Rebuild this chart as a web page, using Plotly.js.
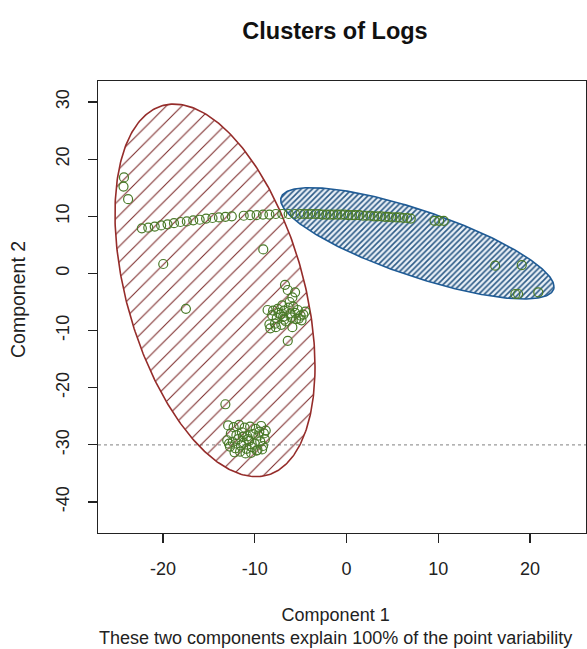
<!DOCTYPE html>
<html>
<head>
<meta charset="utf-8">
<script src="https://cdn.plot.ly/plotly-3.0.1.min.js"></script>
<style>
  html, body { margin: 0; padding: 0; background: #ffffff; }
  #chart { width: 587px; height: 649px; }
</style>
</head>
<body>
<div id="chart"></div>
<script>
// ---- Data ----
// Chain of points along the top (component 1, component 2)
var chainX = [-22.3, -21.6, -20.9, -20.2, -19.5, -18.8, -18.1, -17.4, -16.7, -16.0, -15.3, -14.6, -13.9, -13.2, -12.5,
              -11.2, -10.5, -9.8, -9.1, -8.4, -7.7, -7.0, -6.3, -5.6,
              -5.0, -4.6, -4.2, -3.8, -3.4, -3.0, -2.6, -2.2, -1.8, -1.4, -1.0, -0.6, -0.2, 0.2, 0.6, 1.0, 1.4,
              1.8, 2.2, 2.6, 3.0, 3.4, 3.8, 4.2, 4.6, 5.0, 5.4, 5.8, 6.2, 6.6, 7.0, 9.6, 10.1, 10.6];
var chainY = [7.9, 8.0, 8.2, 8.4, 8.6, 8.8, 9.0, 9.1, 9.3, 9.4, 9.6, 9.7, 9.8, 9.9, 10.0,
              10.1, 10.2, 10.2, 10.3, 10.3, 10.4, 10.4, 10.4, 10.4,
              10.4, 10.4, 10.4, 10.4, 10.4, 10.4, 10.3, 10.3, 10.3, 10.3, 10.3, 10.3, 10.3, 10.2, 10.2, 10.2, 10.2,
              10.1, 10.1, 10.1, 10.0, 10.0, 10.0, 9.9, 9.9, 9.8, 9.8, 9.8, 9.7, 9.7, 9.6, 9.2, 9.2, 9.2];
// Isolated points
var loneX = [-24.25, -24.3, -23.8, -19.97, -9.07, -17.5, -13.2, 16.2, 19.1, 18.4, 18.7, 20.9];
var loneY = [16.8, 15.2, 13.0, 1.65, 4.2, -6.2, -22.9, 1.35, 1.47, -3.6, -3.6, -3.3];
// Middle group
var midX = [-6.7, -6.4, -5.6, -5.9, -6.2, -7.0, -7.5, -8.0, -8.6, -8.3, -7.8, -7.2, -6.8, -6.3, -5.8, -5.3, -4.9, -4.5,
            -5.0, -5.5, -6.0, -6.6, -7.1, -7.6, -8.1, -7.4, -6.9, -6.1, -5.6, -5.2, -6.4, -7.7, -6.8, -5.9, -4.7, -8.4];
var midY = [-2.0, -2.9, -3.3, -4.2, -5.0, -5.6, -6.2, -6.5, -6.4, -9.6, -8.8, -7.2, -6.5, -6.0, -5.8, -6.4, -8.2, -6.7,
            -7.4, -8.0, -7.7, -8.4, -9.0, -7.8, -7.3, -6.9, -7.6, -7.0, -6.9, -7.9, -11.8, -9.4, -8.1, -9.4, -7.2, -8.9];
// Bottom group
var lowX = [-12.9, -12.3, -11.7, -11.1, -10.5, -9.9, -9.3, -8.8, -12.6, -12.0, -11.4, -10.8, -10.2, -9.6, -9.0,
            -13.0, -12.4, -11.8, -11.2, -10.6, -10.0, -9.4, -8.9, -12.7, -12.1, -11.5, -10.9, -10.3, -9.7, -9.1,
            -12.2, -11.0, -9.8, -11.6, -10.4, -9.2, -12.8, -10.7, -11.3, -9.5];
var lowY = [-26.6, -26.9, -26.5, -27.0, -26.8, -27.2, -26.7, -27.5, -28.0, -28.3, -27.8, -28.5, -28.1, -28.4, -28.0,
            -29.2, -29.5, -29.0, -29.6, -29.3, -29.8, -29.4, -29.0, -30.3, -30.6, -30.1, -30.7, -30.4, -30.9, -30.2,
            -31.3, -31.5, -31.0, -31.2, -31.4, -30.8, -29.8, -29.0, -28.6, -27.7];

// Cluster ellipses: centre, half-width in x, half-height in y, phase (deg)
var ellCx = [-14.33, 7.72];
var ellCy = [-2.96, 5.27];
var ellAx = [10.9, 14.89];
var ellBy = [32.6, 9.74];
var ellPhi = [114.2, 141.3];

var xTicks = [-20, -10, 0, 10, 20];
var yTicks = [-40, -30, -20, -10, 0, 10, 20, 30];
var refLineY = -30;

var titleText = 'Clusters of Logs';
var xLabel = 'Component 1';
var subLabel = 'These two components explain 100% of the point variability';
var yLabel = 'Component 2';

// ---- Build ----
function ellipse(i) {
  var xs = [], ys = [];
  var phi = ellPhi[i] * Math.PI / 180;
  for (var k = 0; k <= 360; k++) {
    var t = k * Math.PI / 180;
    xs.push(ellCx[i] + ellAx[i] * Math.cos(t));
    ys.push(ellCy[i] + ellBy[i] * Math.cos(t - phi));
  }
  return {x: xs, y: ys};
}
var e0 = ellipse(0), e1 = ellipse(1);

var allX = chainX.concat(loneX, midX, lowX);
var allY = chainY.concat(loneY, midY, lowY);

var FONT = 'Liberation Sans, Arial, sans-serif';

var traces = [
  {
    x: e0.x, y: e0.y, type: 'scatter', mode: 'lines', fill: 'toself',
    line: {color: '#952c2a', width: 1.6},
    fillcolor: 'rgba(0,0,0,0)',
    fillpattern: {shape: '/', size: 11, solidity: 0.1, fgcolor: '#7e2d2d', bgcolor: 'rgba(255,255,255,0)'},
    hoverinfo: 'skip', showlegend: false
  },
  {
    x: e1.x, y: e1.y, type: 'scatter', mode: 'lines', fill: 'toself',
    line: {color: '#1f5b95', width: 1.6},
    fillcolor: 'rgba(0,0,0,0)',
    fillpattern: {shape: '/', size: 4, solidity: 0.4, fgcolor: '#2c5a86', bgcolor: '#e9f0f7'},
    hoverinfo: 'skip', showlegend: false
  },
  {
    x: allX, y: allY, type: 'scatter', mode: 'markers',
    marker: {symbol: 'circle-open', size: 9, color: '#4a7a28', line: {width: 1.2, color: '#4a7a28'}},
    showlegend: false
  }
];

var axisCommon = {
  showgrid: false, zeroline: false, showline: true, mirror: true,
  linecolor: '#222', linewidth: 1.4,
  ticks: 'outside', ticklen: 9, tickwidth: 1.3, tickcolor: '#222',
  tickfont: {family: FONT, size: 18, color: '#222'}
};

var layout = {
  width: 587, height: 649,
  margin: {l: 98, r: 1, t: 81, b: 116},
  paper_bgcolor: '#ffffff', plot_bgcolor: '#ffffff',
  title: {
    text: '<b>' + titleText + '</b>',
    font: {family: FONT, size: 23.5, color: '#111'},
    x: 0.5707, xref: 'container', xanchor: 'center',
    y: 0.953, yref: 'container', yanchor: 'middle'
  },
  xaxis: Object.assign({}, axisCommon, {
    range: [-27.08, 26.1], tickmode: 'array', tickvals: xTicks, ticktext: xTicks.map(String),
    ticklabelstandoff: 10
  }),
  yaxis: Object.assign({}, axisCommon, {
    range: [-45.43, 33.68], tickmode: 'array', tickvals: yTicks, ticktext: yTicks.map(String),
    tickangle: -90, ticklabelstandoff: 11
  }),
  shapes: [{
    type: 'line', xref: 'paper', x0: 0, x1: 1, yref: 'y', y0: refLineY, y1: refLineY,
    line: {color: '#9a9a9a', width: 1.2, dash: 'dot'}, layer: 'below'
  }],
  annotations: [
    {text: xLabel + '<br>' + subLabel, xref: 'paper', x: 0.4857, yref: 'paper', y: 0, yanchor: 'middle', yshift: -93,
     showarrow: false, align: 'center',
     font: {family: FONT, size: 18, color: '#222'}},
    {text: yLabel, xref: 'paper', x: 0, xanchor: 'center', xshift: -80, yref: 'paper', y: 0.5, yshift: 7,
     textangle: -90, showarrow: false, font: {family: FONT, size: 19.5, color: '#222'}}
  ]
};

Plotly.newPlot('chart', traces, layout, {displayModeBar: false, staticPlot: true});
</script>
</body>
</html>
